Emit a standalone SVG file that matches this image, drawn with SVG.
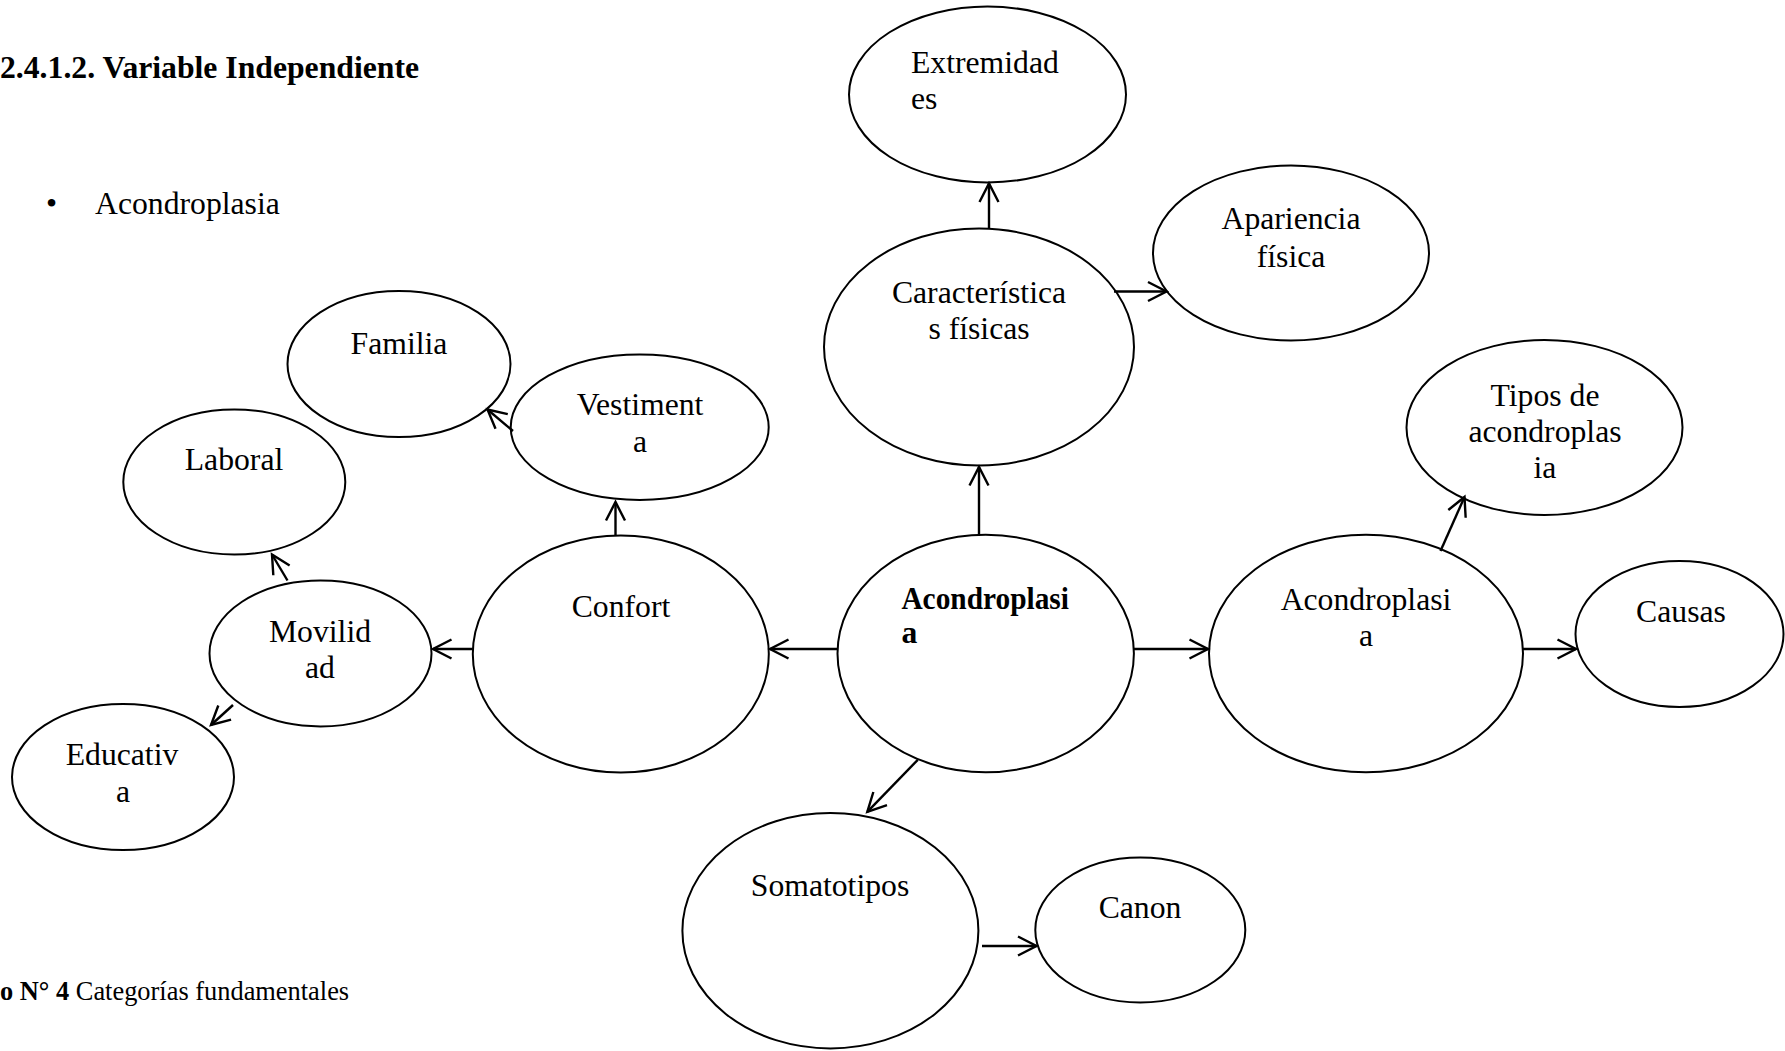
<svg xmlns="http://www.w3.org/2000/svg" width="1785" height="1051" viewBox="0 0 1785 1051">
<style>
.n ellipse{fill:#fff;stroke:#000;stroke-width:2}
text{font-family:"Liberation Serif","Times New Roman",serif;font-size:31.7px;fill:#000}
.c{text-anchor:middle}
.b{font-weight:bold}
.cap{font-size:26.4px}
#conn line{stroke:#000;stroke-width:2.4;fill:none;marker-end:url(#a)}
</style>
<defs>
<marker id="a" markerUnits="userSpaceOnUse" markerWidth="40" markerHeight="40" viewBox="-25 -20 40 40" refX="0" refY="0" orient="auto" overflow="visible">
<path d="M-18.5,-9.5 L0,0 L-18.5,9.5" fill="none" stroke="#000" stroke-width="2.4" stroke-linejoin="miter"/>
</marker>
</defs>
<rect width="1785" height="1051" fill="#fff"/>
<text class="b" x="0" y="77.5">2.4.1.2. Variable Independiente</text>
<text x="46" y="214">•</text>
<text x="95" y="214">Acondroplasia</text>
<text class="cap" x="0" y="1000"><tspan class="b">o N° 4</tspan> Categorías fundamentales</text>

<g id="n-extremidades" class="n"><ellipse cx="987.5" cy="94.5" rx="138.5" ry="88"/><text x="911" y="73">Extremidad</text><text x="911" y="109">es</text></g>
<g id="n-caracteristicas" class="n"><ellipse cx="979" cy="347" rx="155" ry="118.5"/><text class="c" x="979" y="303">Característica</text><text class="c" x="979" y="339">s físicas</text></g>
<g id="n-apariencia" class="n"><ellipse cx="1291" cy="253" rx="138" ry="87.5"/><text class="c" x="1291" y="229">Apariencia</text><text class="c" x="1291" y="266.5">física</text></g>
<g id="n-tipos" class="n"><ellipse cx="1544.5" cy="427.5" rx="138" ry="87.5"/><text class="c" x="1545" y="406">Tipos de</text><text class="c" x="1545" y="442">acondroplas</text><text class="c" x="1545" y="478">ia</text></g>
<g id="n-familia" class="n"><ellipse cx="399" cy="364" rx="111.5" ry="73"/><text class="c" x="399" y="354">Familia</text></g>
<g id="n-vestimenta" class="n"><ellipse cx="639.7" cy="427.2" rx="129" ry="72.8"/><text class="c" x="640" y="415">Vestiment</text><text class="c" x="640" y="452">a</text></g>
<g id="n-laboral" class="n"><ellipse cx="234.3" cy="482" rx="111" ry="72.5"/><text class="c" x="234" y="470">Laboral</text></g>
<g id="n-confort" class="n"><ellipse cx="620.8" cy="654" rx="148" ry="118.5"/><text class="c" x="621" y="617">Confort</text></g>
<g id="n-movilidad" class="n"><ellipse cx="320.5" cy="653.4" rx="111" ry="73"/><text class="c" x="320" y="642">Movilid</text><text class="c" x="320" y="678">ad</text></g>
<g id="n-educativa" class="n"><ellipse cx="123" cy="777" rx="111" ry="73"/><text class="c" x="122" y="764.5">Educativ</text><text class="c" x="123" y="802">a</text></g>
<g id="n-acondroplasia" class="n"><ellipse cx="985.7" cy="653.5" rx="148.2" ry="118.8"/><text class="b" x="901.4" y="608.5" textLength="167.5" lengthAdjust="spacingAndGlyphs">Acondroplasi</text><text class="b" x="901.4" y="643">a</text></g>
<g id="n-acondroplasia2" class="n"><ellipse cx="1366" cy="653.5" rx="157" ry="118.8"/><text class="c" x="1366" y="609.5">Acondroplasi</text><text class="c" x="1366" y="646">a</text></g>
<g id="n-causas" class="n"><ellipse cx="1679.5" cy="634" rx="104" ry="73"/><text class="c" x="1681" y="621.5">Causas</text></g>
<g id="n-somatotipos" class="n"><ellipse cx="830.4" cy="930.7" rx="148" ry="117.7"/><text class="c" x="830" y="896">Somatotipos</text></g>
<g id="n-canon" class="n"><ellipse cx="1140.3" cy="930" rx="105" ry="72.5"/><text class="c" x="1140" y="918">Canon</text></g>

<g id="conn">
<line x1="979" y1="534.5" x2="979" y2="467"/>
<line x1="989" y1="229" x2="989" y2="183.5"/>
<line x1="1114" y1="291.5" x2="1166.5" y2="291.5"/>
<line x1="1440.5" y1="551" x2="1464.5" y2="497"/>
<line x1="1134" y1="649" x2="1208" y2="649"/>
<line x1="1523" y1="649" x2="1576" y2="649"/>
<line x1="837.5" y1="649" x2="770" y2="649"/>
<line x1="472.8" y1="649" x2="433" y2="649"/>
<line x1="615.5" y1="535" x2="615.5" y2="502"/>
<line x1="513" y1="431" x2="487.5" y2="409.5"/>
<line x1="287.5" y1="580.5" x2="272" y2="554.5"/>
<line x1="233" y1="705" x2="211" y2="725"/>
<line x1="917.8" y1="759.8" x2="867.3" y2="811.9"/>
<line x1="982" y1="946" x2="1036.5" y2="946"/>
</g>
</svg>
